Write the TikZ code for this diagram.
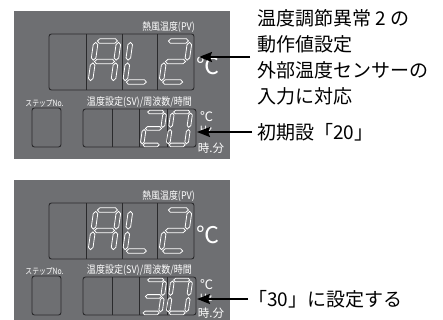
\documentclass[tikz,border=0pt]{standalone}
\usepackage{fontspec}
\usetikzlibrary{arrows.meta}
\newfontfamily\jp{Noto Sans CJK JP}
\definecolor{panelgray}{HTML}{6E6F72}
\definecolor{framedark}{HTML}{2A2A2C}
\newcommand\zsegH[3]{\draw[seg] (#1,#3) -- ({#1+1.0},{#3-1.0}) -- ({#2-1.0},{#3-1.0}) -- (#2,#3) -- ({#2-1.0},{#3+1.0}) -- ({#1+1.0},{#3+1.0}) -- cycle;}
\newcommand\zsegV[3]{\draw[seg] (#1,#2) -- ({#1+1.0},{#2+1.0}) -- ({#1+1.0},{#3-1.0}) -- (#1,#3) -- ({#1-1.0},{#3-1.0}) -- ({#1-1.0},{#2+1.0}) -- cycle;}
\newcommand\zsa{\zsegH{0.6}{9.4}{0}}
\newcommand\zsb{\zsegV{10}{0.6}{8.4}}
\newcommand\zsc{\zsegV{10}{9.6}{17.4}}
\newcommand\zsd{\zsegH{0.6}{9.4}{18}}
\newcommand\zse{\zsegV{0}{9.6}{17.4}}
\newcommand\zsf{\zsegV{0}{0.6}{8.4}}
\newcommand\zsg{\zsegH{0.6}{9.4}{9}}
\tikzset{
  seg/.style={draw=white, line width=0.8pt},
  pics/digA/.style={code={\zsa\zsb\zsc\zse\zsf\zsg}},
  pics/digL/.style={code={\zsd\zse\zsf}},
  pics/digTwo/.style={code={\zsa\zsb\zsd\zse\zsg}},
  pics/digThree/.style={code={\zsa\zsb\zsc\zsd\zsg}},
  pics/digZero/.style={code={\zsa\zsb\zsc\zsd\zse\zsf}},
  big/.style={scale=2.28, xslant=0.14},
  small/.style={scale=1.83, xslant=0.14},
  panel/.style={fill=panelgray, draw=none},
  frame/.style={draw=framedark, line width=0.9pt, rounded corners=2.5pt},
  divider/.style={draw=framedark, line width=0.9pt},
  wlabel/.style={text=white, inner sep=0pt, font=\jp},
  callout/.style={text=black, inner sep=0pt, font=\jp\fontsize{19}{26}\selectfont, align=left},
  arr/.style={draw=black, line width=2pt, -{Stealth[length=13pt, width=10pt, inset=2pt]}}
}
\begin{document}
\begin{tikzpicture}[x=1pt, y=-1pt]
\useasboundingbox (0,0) rectangle (443,320);
% ---------------- panel 1 ----------------
\begin{scope}
\fill[panel] (14,11) rectangle (230,159);
\node[wlabel, anchor=east] (pv1) at (195,27) {\fontsize{10.5}{10.5}\selectfont\scalebox{0.85}[1]{熱風温度(PV)}};
\draw[frame] (49,34) rectangle (194,90);
\draw[divider] (86,34) -- (86,90) (122,34) -- (122,90) (157,34) -- (157,90);
\pic[big] at (96,41) {digA};
\pic[big] at (130.7,41) {digL};
\pic[big] at (167,41) {digTwo};
\node[wlabel] (c1) at (208,66) {\fontsize{23}{23}\selectfont ℃};
\node[wlabel] (st1) at (44.5,103) {\fontsize{8.5}{8.5}\selectfont\scalebox{0.8}[1]{ステップNo.}};
\draw[frame] (32,108) rectangle (61,147);
\node[wlabel] (sv1) at (139.5,102) {\fontsize{10.5}{10.5}\selectfont\scalebox{0.86}[1]{温度設定(SV)/周波数/時間}};
\draw[frame] (83,109) rectangle (196,147);
\draw[divider] (112,109) -- (112,147) (139,109) -- (139,147) (167,109) -- (167,147);
\pic[small] at (146.6,112) {digTwo};
\pic[small] at (172.6,112) {digZero};
\node[wlabel] (u1a) at (206.5,117) {\fontsize{13}{13}\selectfont ℃};
\node[wlabel] (u1b) at (206,130) {\fontsize{10}{10}\selectfont Hz};
\node[wlabel] (u1c) at (211,148) {\fontsize{11.5}{11.5}\selectfont 時.分};
\end{scope}
% ---------------- panel 2 ----------------
\begin{scope}
\fill[panel] (14,180) rectangle (230,320);
\node[wlabel, anchor=east] (pv2) at (195,196) {\fontsize{10.5}{10.5}\selectfont\scalebox{0.85}[1]{熱風温度(PV)}};
\draw[frame] (49,203) rectangle (194,259);
\draw[divider] (86,203) -- (86,259) (122,203) -- (122,259) (157,203) -- (157,259);
\pic[big] at (96,210) {digA};
\pic[big] at (130.7,210) {digL};
\pic[big] at (167,210) {digTwo};
\node[wlabel] (c2) at (208,235) {\fontsize{23}{23}\selectfont ℃};
\node[wlabel] (st2) at (44.5,271) {\fontsize{8.5}{8.5}\selectfont\scalebox{0.8}[1]{ステップNo.}};
\draw[frame] (32,276) rectangle (61,315);
\node[wlabel] (sv2) at (139.5,270) {\fontsize{10.5}{10.5}\selectfont\scalebox{0.86}[1]{温度設定(SV)/周波数/時間}};
\draw[frame] (83,277) rectangle (196,315);
\draw[divider] (112,277) -- (112,315) (139,277) -- (139,315) (167,277) -- (167,315);
\pic[small] at (146.6,280) {digThree};
\pic[small] at (172.6,280) {digZero};
\node[wlabel] (u2a) at (206.5,285) {\fontsize{13}{13}\selectfont ℃};
\node[wlabel] (u2b) at (206,298) {\fontsize{10}{10}\selectfont Hz};
\node[wlabel] (u2c) at (211,313) {\fontsize{11.5}{11.5}\selectfont 時.分};
\end{scope}
% ---------------- callouts ----------------
\node[callout, anchor=north west] (t1) at (257,9) {温度調節異常 2 の\\動作値設定\\外部温度センサーの\\入力に対応};
\node[callout, anchor=west] (t2) at (257,132) {初期設「20」};
\node[callout, anchor=west] (t3) at (248,299) {「30」に設定する};
\coordinate (s1) at (250,57);
\coordinate (e1) at (199,57);
\coordinate (e2) at (197,132);
\coordinate (e3) at (197,299);
\draw[arr] (s1) -- (e1);
\draw[arr] ([xshift=-5pt]t2.west) -- (e2);
\draw[arr] (t3.west) -- (e3);
\end{tikzpicture}
\end{document}
